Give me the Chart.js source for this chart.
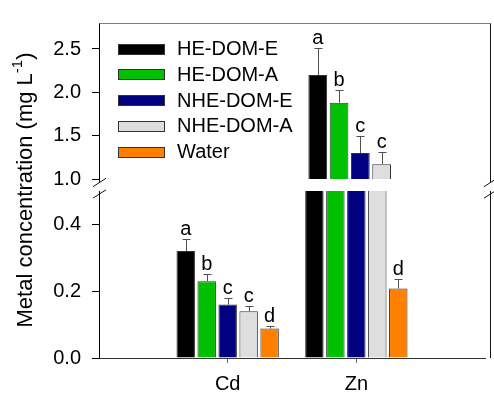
<!DOCTYPE html>
<html>
<head>
<meta charset="utf-8">
<script src="https://cdn.jsdelivr.net/npm/chart.js@4.4.0/dist/chart.umd.min.js"></script>
<style>
  html, body { margin: 0; padding: 0; background: #fff; }
  #wrap { position: relative; width: 494px; height: 396px; }
  #wrap canvas { position: absolute; left: 0; top: 0; }
</style>
</head>
<body>
<div id="wrap">
  <canvas id="lowChart" width="494" height="396"></canvas>
  <canvas id="highChart" width="494" height="396"></canvas>
</div>
<script>
// categories (empty ones pad the axis so Cd / Zn sit at 1/3 and 2/3)
const metals = ["", "Cd", "Zn", ""];
const treatments = ["HE-DOM-E", "HE-DOM-A", "NHE-DOM-E", "NHE-DOM-A", "Water"];
const colors = ["#000000", "#00c000", "#000080", "#dedede", "#ff8000"];

// means, [Cd, Zn] in mg/L
const heDomE = [0.32, 2.20];
const heDomA = [0.23, 1.88];
const nheDomE = [0.16, 1.30];
const nheDomA = [0.14, 1.17];
const water = [0.088, 0.208];
// upper error bars
const heDomEErr = [0.035, 0.31];
const heDomAErr = [0.022, 0.15];
const nheDomEErr = [0.019, 0.20];
const nheDomAErr = [0.016, 0.14];
const waterErr = [0.008, 0.03];
// significance letters
const heDomELet = ["a", "a"];
const heDomALet = ["b", "b"];
const nheDomELet = ["c", "c"];
const nheDomALet = ["c", "c"];
const waterLet = ["d", "d"];

const lowTicks = [0, 0.2, 0.4];
const highTicks = [1.0, 1.5, 2.0, 2.5];

const means = [heDomE, heDomA, nheDomE, nheDomA, water];
const errs = [heDomEErr, heDomAErr, nheDomEErr, nheDomAErr, waterErr];
const lets = [heDomELet, heDomALet, nheDomELet, nheDomALet, waterLet];

const FONT = "'Liberation Sans', Arial, Helvetica, sans-serif";
Chart.defaults.font.family = FONT;
Chart.defaults.color = "#000";

function makeDatasets() {
  return treatments.map((t, i) => ({
    label: t,
    data: [null, means[i][0], means[i][1], null],
    errors: [null, errs[i][0], errs[i][1], null],
    letters: [null, lets[i][0], lets[i][1], null],
    backgroundColor: colors[i],
    borderColor: "#333",
    borderWidth: 1,
    barPercentage: 0.88,
    categoryPercentage: 0.815,
    clip: 0,
  }));
}

// error bars + letters, only where the bar top lies inside this panel
const errorLetters = {
  id: "errorLetters",
  afterDatasetsDraw(chart) {
    const ctx = chart.ctx;
    const y = chart.scales.y;
    ctx.save();
    chart.data.datasets.forEach((ds, di) => {
      const meta = chart.getDatasetMeta(di);
      meta.data.forEach((bar, i) => {
        const v = ds.data[i];
        if (v == null || v < y.min || v > y.max) return;
        const top = Math.round(y.getPixelForValue(v + ds.errors[i])) + 0.5;
        const x = Math.round(bar.x) + 0.5;
        ctx.strokeStyle = "#505050";
        ctx.lineWidth = 1;
        ctx.beginPath();
        ctx.moveTo(x, bar.y);
        ctx.lineTo(x, top);
        ctx.moveTo(x - 4, top);
        ctx.lineTo(x + 4, top);
        ctx.stroke();
        ctx.fillStyle = "#000";
        ctx.font = "20px " + FONT;
        ctx.textAlign = "center";
        ctx.textBaseline = "alphabetic";
        ctx.fillText(ds.letters[i], bar.x, top - 5);
      });
    });
    ctx.restore();
  },
};

function slash(ctx, x, yc) {
  ctx.beginPath();
  ctx.moveTo(x - 6.5, yc + 4.2);
  ctx.lineTo(x + 6.5, yc - 4.2);
  ctx.stroke();
}

// frame, axis breaks and legend
const frame = {
  id: "frame",
  afterDraw(chart) {
    const ctx = chart.ctx;
    const a = chart.chartArea;
    const L = Math.round(a.left) + 0.5;
    const R = Math.round(a.right) - 0.5;
    const T = Math.round(a.top) + 0.5;
    ctx.save();
    ctx.lineWidth = 1;
    ctx.strokeStyle = "#808080";
    ctx.beginPath();
    ctx.moveTo(L, T);
    ctx.lineTo(R, T);
    ctx.stroke();
    ctx.strokeStyle = "#111";
    ctx.beginPath();
    ctx.moveTo(R, T);
    ctx.lineTo(R, 182.5);
    ctx.moveTo(R, 191);
    ctx.lineTo(R, 358);
    ctx.moveTo(L, a.bottom);
    ctx.lineTo(L, 182.5);
    ctx.stroke();
    [L, R].forEach(x => { slash(ctx, x, 182.5); slash(ctx, x, 194); });

    // legend
    ctx.font = "20px " + FONT;
    ctx.textAlign = "left";
    ctx.textBaseline = "middle";
    treatments.forEach((t, i) => {
      const y0 = 43.5 + i * 25.75;
      ctx.fillStyle = colors[i];
      ctx.fillRect(118, Math.round(y0), 47, 11);
      ctx.strokeStyle = "#333";
      ctx.strokeRect(118.5, Math.round(y0) + 0.5, 46, 10);
      ctx.fillStyle = "#000";
      ctx.fillText(t, 177, y0 + 6);
    });
    ctx.restore();
  },
};

const yTitle = {
  id: "yTitle",
  afterDraw(chart) {
    const ctx = chart.ctx;
    ctx.save();
    ctx.translate(26, 190);
    ctx.rotate(-Math.PI / 2);
    ctx.fillStyle = "#000";
    ctx.textBaseline = "middle";
    ctx.textAlign = "left";
    const big = "22px " + FONT, small = "15px " + FONT;
    ctx.font = big;
    const w1 = ctx.measureText("Metal concentration (mg L").width;
    const w3 = ctx.measureText(")").width;
    ctx.font = small;
    const w2 = ctx.measureText("-1").width;
    let x = -(w1 + w2 + w3) / 2;
    ctx.font = big;
    ctx.fillText("Metal concentration (mg L", x, 0);
    x += w1;
    ctx.font = small;
    ctx.fillText("-1", x, -8);
    x += w2;
    ctx.font = big;
    ctx.fillText(")", x, 0);
    ctx.restore();
  },
};

function yScale(min, max, ticks) {
  return {
    min: min,
    max: max,
    afterBuildTicks: s => { s.ticks = ticks.map(v => ({ value: v })); },
    afterFit: s => { s.width = 99; },
    ticks: {
      font: { size: 20 },
      color: "#000",
      padding: 11,
      callback: v => Number(v).toFixed(1),
    },
    grid: { drawOnChartArea: false, tickLength: 7, tickColor: "#000", tickWidth: 1 },
    border: { color: "#000", width: 1 },
  };
}

new Chart(document.getElementById("lowChart"), {
  type: "bar",
  data: { labels: metals, datasets: makeDatasets() },
  options: {
    responsive: false,
    animation: false,
    layout: { padding: { left: 0, right: 3, top: 191, bottom: 0 } },
    plugins: { legend: { display: false }, tooltip: { enabled: false } },
    scales: {
      x: {
        type: "category",
        offset: false,
        afterFit: s => { s.height = 38; },
        ticks: { font: { size: 20 }, color: "#000", padding: 9, autoSkip: false, maxRotation: 0 },
        grid: {
          offset: false,
          drawOnChartArea: false,
          tickLength: 5,
          tickColor: c => (c.index === 1 || c.index === 2) ? "#666" : "rgba(0,0,0,0)",
        },
        border: { color: "#333", width: 1 },
      },
      y: yScale(0, 0.5, lowTicks),
    },
  },
  plugins: [errorLetters, yTitle],
});

new Chart(document.getElementById("highChart"), {
  type: "bar",
  data: { labels: metals, datasets: makeDatasets() },
  options: {
    responsive: false,
    animation: false,
    layout: { padding: { left: 0, right: 3, top: 13, bottom: 217 } },
    plugins: { legend: { display: false }, tooltip: { enabled: false } },
    scales: {
      x: { type: "category", offset: false, display: false, grid: { offset: false } },
      y: yScale(1, 2.8, highTicks),
    },
  },
  plugins: [errorLetters, frame],
});
</script>
</body>
</html>
